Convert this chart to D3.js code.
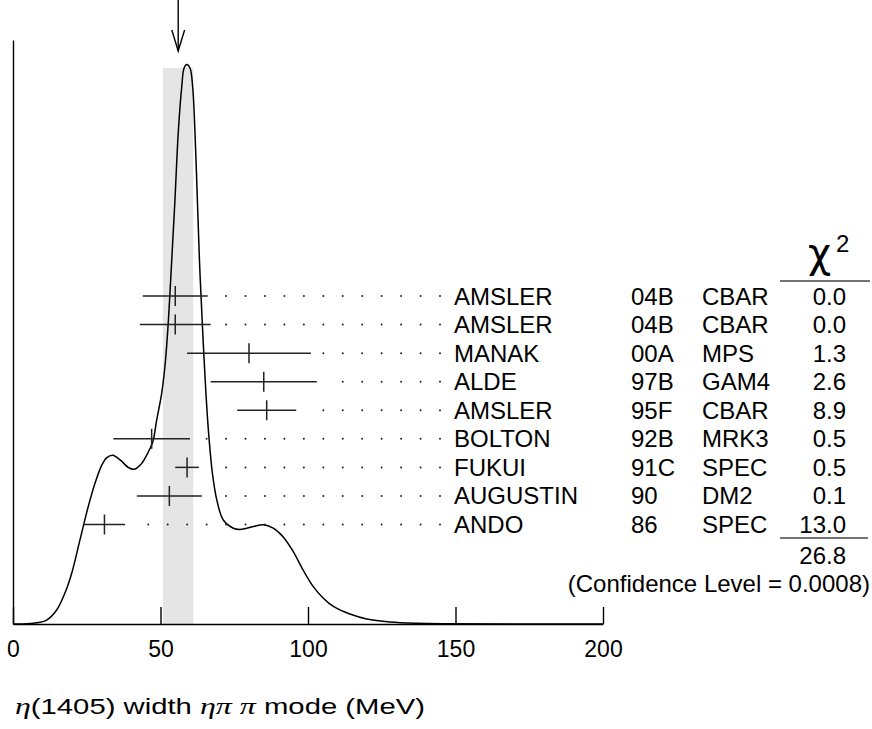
<!DOCTYPE html>
<html>
<head>
<meta charset="utf-8">
<script src="https://cdn.jsdelivr.net/npm/d3@7"></script>
<style>
  body { margin: 0; background: #fff; }
  svg { display: block; }
  text { font-family: "Liberation Sans", Arial, Helvetica, sans-serif; fill: #000; }
</style>
</head>
<body>
<svg id="chart" width="872" height="729"></svg>
<script>
// measurements (top to bottom)
const names = ["AMSLER", "AMSLER", "MANAK", "ALDE", "AMSLER", "BOLTON", "FUKUI", "AUGUSTIN", "ANDO"];
const refs = ["04B", "04B", "00A", "97B", "95F", "92B", "91C", "90", "86"];
const techs = ["CBAR", "CBAR", "MPS", "GAM4", "CBAR", "MRK3", "SPEC", "DM2", "SPEC"];
const chi2 = ["0.0", "0.0", "1.3", "2.6", "8.9", "0.5", "0.5", "0.1", "13.0"];
const values = [55, 55, 80, 85, 86, 47, 59, 53, 31];
const errors = [11, 12, 21, 18, 10, 13, 4, 11, 7];

// fit result
const fitValue = 56;
const bandLo = 50.8;
const bandHi = 61.1;
const chi2Total = "26.8";
const confLevel = "(Confidence Level = 0.0008)";

// ideogram curve
const curveX = [0, 6.9, 11.4, 14.8, 17.6, 19.9, 22.7, 25.5, 27.8, 30.1, 31.8, 33.8, 36.3, 39.1, 41.1, 43.6, 45.9, 47.4, 48.7, 50.4, 51.5, 52.4, 53.2, 53.8, 54.9, 56.0, 57.2, 58.0, 58.9, 60.0, 60.9, 61.7, 62.5, 63.2, 63.7, 64.5, 65.4, 66.4, 67.6, 69.1, 71.3, 74.7, 77.0, 81.5, 84.8, 88.2, 91.6, 95.0, 98.4, 101.8, 105.2, 108.6, 114.2, 119.9, 127.8, 136.8, 148.1, 200];
const curveY = [0, 0.12, 0.68, 2.4, 5.3, 8.7, 14.4, 20.1, 24.1, 27.2, 28.5, 28.9, 28.1, 26.8, 26.5, 27.5, 29.5, 31.2, 34.9, 39.5, 44.1, 49.8, 56.6, 62.3, 72.6, 84.0, 92.0, 95.2, 95.8, 95.2, 92.0, 84.0, 72.6, 62.3, 56.6, 48.1, 39.5, 32.1, 25.8, 21.2, 17.8, 16.4, 16.2, 16.7, 17.0, 16.4, 14.9, 12.4, 9.2, 6.4, 4.4, 3.0, 1.7, 0.86, 0.34, 0.12, 0.05, 0];

const xTicks = [0, 50, 100, 150, 200];

const svg = d3.select("#chart");

const x = d3.scaleLinear().domain([0, 200]).range([13, 603]);
const y = d3.scaleLinear().domain([0, 100]).range([624, 40]);
const row = d3.scalePoint().domain(d3.range(names.length)).range([296, 524.5]);

// shaded band of the fit
svg.append("rect")
    .attr("x", x(bandLo))
    .attr("y", y(95.2))
    .attr("width", x(bandHi) - x(bandLo))
    .attr("height", y(0) - y(95.2))
    .attr("fill", "#e5e5e5");

// arrow at the fitted value
const ax = x(fitValue);
svg.append("line")
    .attr("x1", ax).attr("x2", ax)
    .attr("y1", 0).attr("y2", 51)
    .attr("stroke", "#000").attr("stroke-width", 1.4);
svg.append("path")
    .attr("d", `M${ax - 6.4},30 L${ax},51 L${ax + 6.4},30`)
    .attr("fill", "none").attr("stroke", "#000").attr("stroke-width", 1.4);

// axes
svg.append("g")
    .attr("transform", `translate(0,${y(0)})`)
    .call(d3.axisBottom(x).tickValues(xTicks).tickSize(-17).tickSizeOuter(0).tickPadding(17))
    .call(g => g.select(".domain").attr("stroke-width", 1.4))
    .call(g => g.selectAll(".tick line").attr("stroke-width", 1.4))
    .call(g => g.selectAll(".tick text").attr("font-size", 23));

svg.append("g")
    .attr("transform", `translate(${x(0)},0)`)
    .call(d3.axisLeft(y).tickValues([]).tickSizeOuter(0))
    .call(g => g.select(".domain").attr("stroke-width", 1.4));

// ideogram
const line = d3.line()
    .x((d, i) => x(curveX[i]))
    .y(d => y(d))
    .curve(d3.curveCatmullRom.alpha(0.5));

svg.append("path")
    .datum(curveY)
    .attr("d", line)
    .attr("fill", "none")
    .attr("stroke", "#000")
    .attr("stroke-width", 1.5);

// leader dots
const labelX = 454;
const dotStep = 19.45;
const dotX = d3.range(16).map(k => labelX - 14 - k * dotStep);

const dots = svg.append("g");
names.forEach((n, i) => {
    const hi = x(values[i] + errors[i]);
    dots.selectAll(null)
        .data(dotX.filter(d => d > hi + 10))
        .join("circle")
        .attr("cx", d => d)
        .attr("cy", row(i))
        .attr("r", 1)
        .attr("fill", "#222");
});

// error bars
const bars = svg.append("g").attr("stroke", "#222").attr("stroke-width", 1.5);
bars.selectAll(".bar")
    .data(values)
    .join("line")
    .attr("x1", (d, i) => x(d - errors[i]))
    .attr("x2", (d, i) => x(d + errors[i]))
    .attr("y1", (d, i) => row(i))
    .attr("y2", (d, i) => row(i));
bars.selectAll(".mid")
    .data(values)
    .join("line")
    .attr("x1", d => x(d))
    .attr("x2", d => x(d))
    .attr("y1", (d, i) => row(i) - 10)
    .attr("y2", (d, i) => row(i) + 10);

// table
const table = svg.append("g").attr("font-size", 24);
const col = (arr, xp, anchor) => table.selectAll(null)
    .data(arr)
    .join("text")
    .attr("x", xp)
    .attr("y", (d, i) => row(i) + 8.5)
    .attr("text-anchor", anchor)
    .text(d => d);
col(names, labelX, "start");
col(refs, 631, "start");
col(techs, 702, "start");
col(chi2, 846, "end");

// chi2 header
svg.append("text")
    .attr("x", 808).attr("y", 267)
    .style("font-family", "'DejaVu Sans', sans-serif")
    .attr("font-size", 40)
    .text("χ");
svg.append("text")
    .attr("x", 836).attr("y", 252)
    .attr("font-size", 24)
    .text("2");

svg.append("line")
    .attr("x1", 780).attr("x2", 870)
    .attr("y1", 281).attr("y2", 281)
    .attr("stroke", "#444").attr("stroke-width", 1.3);
svg.append("line")
    .attr("x1", 780).attr("x2", 868)
    .attr("y1", 538).attr("y2", 538)
    .attr("stroke", "#444").attr("stroke-width", 1.3);

svg.append("text")
    .attr("x", 846).attr("y", 564)
    .attr("text-anchor", "end")
    .attr("font-size", 24)
    .text(chi2Total);
svg.append("text")
    .attr("x", 870).attr("y", 592)
    .attr("text-anchor", "end")
    .attr("font-size", 24)
    .text(confLevel);

// x axis title
const title = svg.append("text")
    .attr("x", 15).attr("y", 714)
    .attr("font-size", 22)
    .attr("textLength", 410)
    .attr("lengthAdjust", "spacingAndGlyphs");
const mathSpan = t => title.append("tspan")
    .style("font-family", "'Liberation Serif', serif")
    .style("font-style", "italic")
    .attr("font-size", 24)
    .text(t);
mathSpan("η");
title.append("tspan").text("(1405) width ");
mathSpan("ηπ π");
title.append("tspan").text(" mode (MeV)");
</script>
</body>
</html>
